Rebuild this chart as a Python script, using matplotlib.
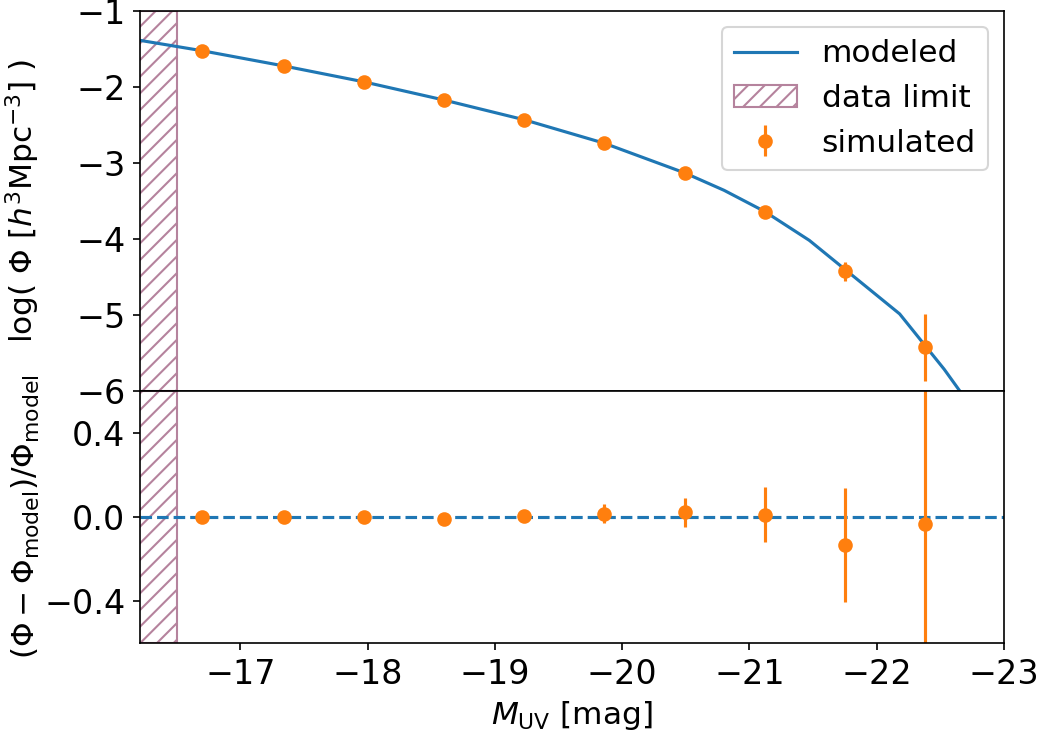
#Luminosity function: modeled curve vs simulated counts, with the
#relative residuals underneath
import numpy as np
import matplotlib.pyplot as plt

#simulated points
mag_sim = [-16.70, -17.34, -17.97, -18.60, -19.23, -19.86, -20.49, -21.12, -21.75, -22.38]
logphi_sim = [-1.52, -1.72, -1.93, -2.17, -2.43, -2.74, -3.13, -3.64, -4.43, -5.43]
logphi_err = [0.005, 0.007, 0.01, 0.012, 0.016, 0.02, 0.03, 0.06, 0.13, 0.44]

#relative residuals (phi - phi_model) / phi_model
resid = [0.0, 0.0, 0.0, -0.008, 0.002, 0.014, 0.022, 0.01, -0.135, -0.035]
resid_err = [0.004, 0.006, 0.008, 0.01, 0.015, 0.045, 0.07, 0.13, 0.27, 0.9]

#model curve
mag_model = [-16.20, -16.70, -17.34, -17.97, -18.60, -19.23, -19.86, -20.49, -20.80,
	-21.12, -21.47, -22.18, -22.53, -22.80]
logphi_model = [-1.38, -1.52, -1.72, -1.93, -2.17, -2.43, -2.74, -3.13, -3.36,
	-3.64, -4.02, -4.99, -5.72, -6.35]

mag_limit = -16.5
xlims = (-16.21, -23)

fig, (ax1, ax2) = plt.subplots(2, 1, sharex=True, figsize=(1043/150, 731/150), dpi=150,
	gridspec_kw={'height_ratios': [3, 2]})
fig.subplots_adjust(left=0.1342, right=0.9626, top=0.9845, bottom=0.120, hspace=0)

hatch_col = '#b5839d'

#top panel
ax1.plot(mag_model, logphi_model, color='C0', label='modeled')
ax1.axvspan(-16.0, mag_limit, fill=False, hatch='///', edgecolor=hatch_col,
	linewidth=1.0, label='data limit')
ax1.errorbar(mag_sim, logphi_sim, yerr=logphi_err, fmt='o', color='C1', label='simulated')
ax1.set_ylim(-6, -1)
ax1.set_yticks([-6, -5, -4, -3, -2, -1])
ax1.set_ylabel(r'log( $\Phi$ [$h^3$Mpc$^{-3}$] )', fontsize=15)
ax1.tick_params(axis='x', bottom=False, labelbottom=False)
ax1.tick_params(axis='y', labelsize=16)
ax1.legend(fontsize=15, loc='upper right')

#bottom panel
ax2.axhline(0, color='C0', linestyle='--')
ax2.axvspan(-16.0, mag_limit, fill=False, hatch='///', edgecolor=hatch_col, linewidth=1.0)
ax2.errorbar(mag_sim, resid, yerr=resid_err, fmt='o', color='C1')
ax2.set_ylim(-0.6, 0.6)
ax2.set_yticks([-0.4, 0.0, 0.4])
ax2.set_ylabel(r'$(\Phi-\Phi_{\rm model})/\Phi_{\rm model}$', fontsize=15)
ax2.set_xlabel(r'$M_{\rm UV}$ [mag]', fontsize=15)
ax2.tick_params(labelsize=16)

ax2.set_xlim(*xlims)
ax2.set_xticks([-17, -18, -19, -20, -21, -22, -23])

#both y labels in the same column
ax1.yaxis.set_label_coords(-0.113, 0.5)
ax2.yaxis.set_label_coords(-0.113, 0.5)

fig.savefig('out.png', dpi=150)
